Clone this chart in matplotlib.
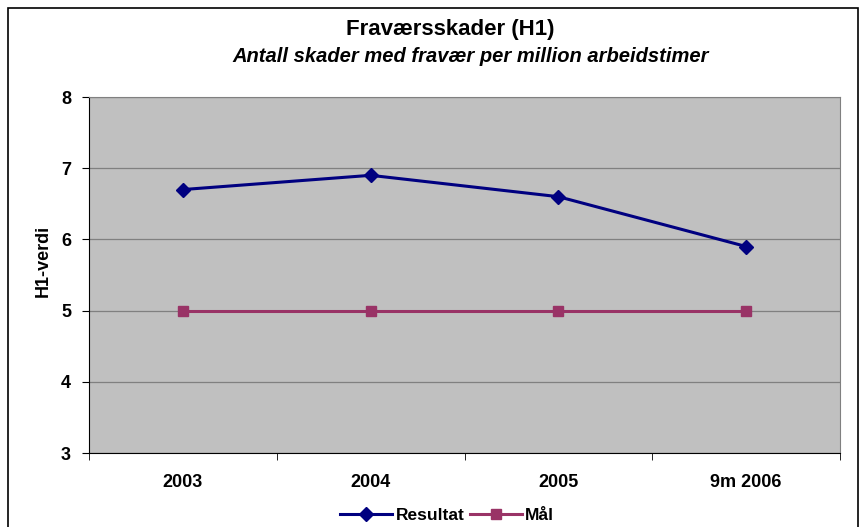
import matplotlib
matplotlib.use("Agg")
import matplotlib.pyplot as plt
from matplotlib.patches import Rectangle

# data
categories = ["2003", "2004", "2005", "9m 2006"]
resultat = [6.7, 6.9, 6.6, 5.9]
maal = [5.0, 5.0, 5.0, 5.0]

plt.rcParams['font.family'] = ['Liberation Sans', 'DejaVu Sans']
plt.rcParams['font.weight'] = 'bold'

fig = plt.figure(figsize=(8.6, 5.27), dpi=100)
ax = fig.add_axes([89/860, 1-453/527, (840-89)/860, (453-97)/527])

# outer chart border
fig.patches.append(Rectangle((8/860, -0.01), 850/860, 1-7.5/527+0.01, transform=fig.transFigure,
                             fill=False, edgecolor='black', linewidth=1.2))

ax.set_facecolor('#C0C0C0')
x = range(len(categories))
ax.plot(x, resultat, color='#000080', lw=2.2, marker='D', ms=7, label='Resultat', zorder=3)
ax.plot(x, maal, color='#993366', lw=2.2, marker='s', ms=6.5, label='Mål', zorder=3)

ax.set_xlim(-0.5, 3.5)
ax.set_ylim(3, 8)
ax.set_yticks(range(3, 9))
ax.grid(axis='y', color='#808080', lw=0.9)
ax.set_axisbelow(True)

ax.set_xticks(x)
ax.set_xticklabels(categories, fontsize=13, fontweight='bold')
ax.set_xticks([-0.5, 0.5, 1.5, 2.5, 3.5], minor=True)
ax.tick_params(axis='x', which='major', length=0, pad=15)
ax.tick_params(axis='x', which='minor', length=5, color='black')
ax.tick_params(axis='y', length=5, labelsize=13, pad=8)
for lab in ax.get_yticklabels():
    lab.set_fontweight('bold')

ax.spines['left'].set_color('black')
ax.spines['bottom'].set_color('black')
ax.spines['top'].set_color('#808080')
ax.spines['right'].set_color('#808080')

ax.set_ylabel('H1-verdi', fontsize=13, fontweight='bold')
ax.yaxis.set_label_coords(-0.05, 0.54)

fig.text(450/860, 1-30/527, 'Fraværsskader (H1)', ha='center', va='center', fontsize=16, fontweight='bold')
fig.text(471/860, 1-57/527, 'Antall skader med fravær per million arbeidstimer', ha='center', va='center',
         fontsize=14.5, fontweight='bold', style='italic')

fig.legend(loc='center', bbox_to_anchor=(447/860, 1-515/527), ncol=2, frameon=False,
           fontsize=12.5, handlelength=3, columnspacing=0.3, handletextpad=0.2)

fig.savefig('out.png', dpi=100)
